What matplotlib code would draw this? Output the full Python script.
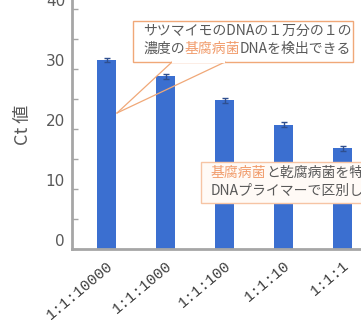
import matplotlib
matplotlib.use("Agg")
import matplotlib.pyplot as plt
import matplotlib.transforms as mtransforms
from matplotlib.patches import Rectangle
from matplotlib.lines import Line2D
from matplotlib.ticker import MultipleLocator

plt.rcParams['font.family'] = ['Noto Sans CJK JP', 'DejaVu Sans']

# pathogen : sweet potato DNA ratio vs. Ct value
ratios = ['1:1:10000', '1:1:1000', '1:1:100', '1:1:10', '1:1:1']
ct = [31.5, 28.8, 24.8, 20.7, 16.8]
ct_err = [0.3, 0.4, 0.4, 0.4, 0.4]
y_ticks = [0, 10, 20, 30, 40]

note1 = [[('サツマイモのDNAの１万分の１の', '#595959')],
         [('濃度の', '#595959'), ('基腐病菌', '#f19c6c'), ('DNAを検出できる', '#595959')]]
note2 = [[('基腐病菌', '#f19c6c'), ('と乾腐病菌を特異的に', '#595959')],
         [('DNAプライマーで区別して検出', '#595959')]]

W, H = 361, 320
bar_color = '#3b6fd0'
grey = '#a6a6a6'

fig = plt.figure(figsize=(W / 100, H / 100), dpi=100)
ax = fig.add_axes([72 / W, 71 / H, 289 / W, 249 / H])

xs = range(len(ratios))
ax.bar(xs, ct, width=0.32, color=bar_color, zorder=2,
       yerr=ct_err, error_kw=dict(ecolor='#2f4f8f', capsize=2.5, elinewidth=1, capthick=1))

ax.set_xlim(-0.585, 4.31)
ax.set_ylim(0, 41.5)
ax.set_yticks(y_ticks)
ax.yaxis.set_minor_locator(MultipleLocator(5))
ax.set_xticks(list(xs))
ax.set_xticklabels(ratios, rotation=40, ha='right', rotation_mode='anchor',
                   family='Liberation Mono', fontsize=11, color='#404040')
ax.tick_params(axis='x', length=0, pad=7)
ax.tick_params(axis='y', which='both', direction='in', length=4, width=1, color=grey,
               labelsize=11, labelcolor='#595959', pad=5)
for lbl in ax.get_yticklabels():
    lbl.set_fontfamily('DejaVu Sans')
# the value labels sit a little above their ticks
shift = mtransforms.ScaledTranslation(0, 0.09, fig.dpi_scale_trans)
for lbl in ax.yaxis.get_majorticklabels():
    lbl.set_transform(lbl.get_transform() + shift)

for side in ('top', 'right'):
    ax.spines[side].set_visible(False)
for side in ('left', 'bottom'):
    ax.spines[side].set_color(grey)
    ax.spines[side].set_linewidth(2)

ax.set_ylabel('Ct 値', fontsize=13, color='#595959')
ax.yaxis.set_label_coords(-0.14, 0.5)


def fx(x):
    return x / W


def fy(y):
    return 1 - y / H


renderer = fig.canvas.get_renderer()


def rich_lines(x0, lines, y_list, size=10):
    for parts, y in zip(lines, y_list):
        x = x0
        for s, c in parts:
            t = ax.text(fx(x), fy(y), s, color=c, fontsize=size, va='baseline', ha='left',
                        transform=fig.transFigure, zorder=7, clip_on=False)
            x += t.get_window_extent(renderer).width


# callout 1 with pointer down to the first bar
ax.add_patch(Rectangle((fx(133), fy(62)), fx(220), 41 / H, transform=fig.transFigure,
                       facecolor='white', edgecolor='#f0a878', linewidth=1, zorder=5, clip_on=False))
for x_start in (172, 225):
    ax.add_line(Line2D([fx(x_start), fx(117)], [fy(62), fy(113)], transform=fig.transFigure,
                       color='#f0a878', linewidth=0.9, zorder=5, clip_on=False))
ax.add_line(Line2D([fx(173), fx(224)], [fy(62), fy(62)], transform=fig.transFigure,
                   color='white', linewidth=1.5, zorder=5, clip_on=False))
rich_lines(143, note1, [35, 53])

# callout 2 laid over the bars
ax.add_patch(Rectangle((fx(201), fy(203)), fx(200), 41 / H, transform=fig.transFigure,
                       facecolor='#fffaf6', edgecolor='#f6c4a4', linewidth=1, zorder=5, clip_on=False))
rich_lines(211, note2, [177, 195])

fig.savefig('out.png', dpi=100)
